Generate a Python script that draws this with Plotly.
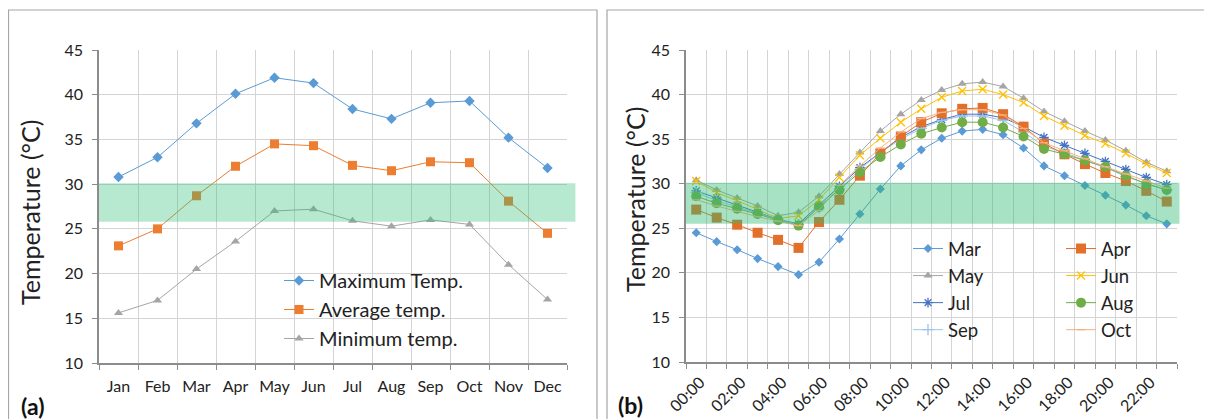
import plotly.graph_objects as go

# ---------------- data ----------------
months = ["Jan", "Feb", "Mar", "Apr", "May", "Jun", "Jul", "Aug", "Sep", "Oct", "Nov", "Dec"]
max_temp = [30.8, 33.0, 36.8, 40.1, 41.9, 41.3, 38.4, 37.3, 39.1, 39.3, 35.2, 31.8]
avg_temp = [23.1, 25.0, 28.7, 32.0, 34.5, 34.3, 32.1, 31.5, 32.5, 32.4, 28.1, 24.5]
min_temp = [15.6, 17.0, 20.5, 23.6, 27.0, 27.2, 25.9, 25.3, 26.0, 25.5, 21.0, 17.1]

hours = ["%02d:00" % h for h in range(24)]
hour_labels = [h if i % 2 == 0 else "" for i, h in enumerate(hours)]

mar = [24.5, 23.5, 22.6, 21.6, 20.7, 19.8, 21.2, 23.8, 26.6, 29.4, 32.0, 33.8,
       35.1, 35.9, 36.1, 35.5, 34.0, 32.0, 30.9, 29.8, 28.7, 27.6, 26.4, 25.5]
apr = [27.1, 26.2, 25.4, 24.5, 23.7, 22.8, 25.7, 28.2, 30.9, 33.4, 35.3, 36.9,
       37.9, 38.4, 38.5, 37.8, 36.4, 34.5, 33.3, 32.2, 31.2, 30.3, 29.2, 28.0]
may = [30.4, 29.3, 28.4, 27.5, 26.4, 26.8, 28.6, 31.1, 33.5, 35.9, 37.8, 39.4,
       40.5, 41.2, 41.4, 40.9, 39.6, 38.1, 37.0, 35.9, 34.9, 33.7, 32.4, 31.4]
jun = [30.3, 29.0, 28.1, 27.1, 26.1, 26.4, 28.2, 30.7, 33.2, 35.1, 36.9, 38.4,
       39.7, 40.4, 40.6, 40.0, 39.1, 37.6, 36.5, 35.4, 34.5, 33.4, 32.2, 31.2]
jul = [29.2, 28.4, 27.6, 26.8, 26.0, 25.5, 27.6, 29.7, 31.8, 33.5, 35.2, 36.4,
       37.2, 37.8, 37.8, 37.4, 36.4, 35.2, 34.3, 33.4, 32.5, 31.6, 30.7, 29.9]
aug = [28.6, 27.8, 27.2, 26.6, 25.9, 25.3, 27.4, 29.3, 31.3, 33.0, 34.4, 35.6,
       36.3, 36.9, 36.9, 36.3, 35.3, 33.9, 33.3, 32.6, 31.9, 30.9, 30.0, 29.3]
sep = [29.0, 28.1, 27.4, 26.7, 26.0, 25.4, 27.3, 29.4, 31.6, 33.5, 35.0, 36.2,
       37.1, 37.6, 37.6, 37.1, 35.8, 34.2, 33.5, 32.6, 31.8, 30.8, 30.0, 29.3]
octo = [28.2, 27.5, 26.9, 26.3, 25.8, 25.3, 27.0, 29.8, 32.0, 34.0, 35.8, 37.3,
        38.0, 38.3, 38.3, 37.7, 36.2, 34.6, 33.7, 32.8, 31.9, 31.1, 30.3, 29.5]

comfort_a = (25.8, 30.1)
comfort_b = (25.5, 30.1)

# ---------------- layout helpers ----------------
# the page body has an 8px margin, so the figure starts at (8, 8) in the window
W, H, OFF = 1204, 411, 8


def px(x):
    return (x - OFF) / W


def py(y):
    return 1 - (y - OFF) / H


FONT = "Lato"
GRID = "#D4D4D4"
AXIS = "#8C8C8C"

fig = go.Figure()

left_series = [
    ("Maximum Temp.", max_temp, "#5B9BD5", "diamond", 8),
    ("Average temp.", avg_temp, "#ED7D31", "square", 9),
    ("Minimum temp.", min_temp, "#A5A5A5", "triangle-up", 8),
]
for i, (name, vals, col, sym, sz) in enumerate(left_series):
    fig.add_trace(go.Scatter(
        x=months, y=vals, name=name, mode="lines+markers",
        line=dict(color=col, width=1),
        marker=dict(symbol=sym, size=sz, color=col),
        xaxis="x", yaxis="y", legend="legend", legendgroup="a%d" % i,
    ))

right_series = [
    ("Mar", mar, "#5B9BD5", "diamond", 7, "legend2"),
    ("May", may, "#A5A5A5", "triangle-up", 8, "legend2"),
    ("Jul", jul, "#4472C4", "asterisk-open", 8, "legend2"),
    ("Sep", sep, "#9DC3E6", "cross-thin-open", 8, "legend2"),
    ("Apr", apr, "#E2702A", "square", 10, "legend3"),
    ("Jun", jun, "#FFC000", "x-thin-open", 8, "legend3"),
    ("Aug", aug, "#70AD47", "circle", 10, "legend3"),
    ("Oct", octo, "#F4B183", "line-ew-open", 6, "legend3"),
]
for i, (name, vals, col, sym, sz, lg) in enumerate(right_series):
    open_sym = sym.endswith("open")
    fig.add_trace(go.Scatter(
        x=hours, y=vals, name=name, mode="lines+markers",
        line=dict(color=col, width=1),
        marker=dict(symbol=sym, size=sz, color=col,
                    line=dict(color=col, width=1.3 if open_sym else 0)),
        xaxis="x2", yaxis="y2", legend=lg, legendgroup="b%d" % i,
    ))

tickfont = dict(family=FONT, size=16, color="#222")

common_y = dict(
    range=[10, 45], dtick=5, showgrid=True, gridcolor=GRID, gridwidth=1,
    showline=True, linecolor=AXIS, linewidth=1.5, ticks="outside", ticklen=5,
    tickcolor=AXIS, tickfont=tickfont, zeroline=False, ticklabelstandoff=6,
    mirror=False, automargin=False,
)
common_x = dict(
    type="category", tickson="boundaries", showgrid=True, gridcolor=GRID,
    gridwidth=1, showline=True, linecolor=AXIS, linewidth=1.5, ticks="outside",
    ticklen=5, tickcolor=AXIS, tickfont=tickfont, zeroline=False, automargin=False,
)

legfont = dict(family=FONT, size=20, color="#222")

fig.update_layout(
    width=W, height=H, margin=dict(l=0, r=0, t=0, b=0, autoexpand=False),
    paper_bgcolor="white", plot_bgcolor="white",
    font=dict(family=FONT, color="#222"),
    xaxis=dict(common_x, domain=[px(99), px(567)], anchor="y",
               range=[-0.5, 11.5], tickangle=0, ticklabelstandoff=8),
    yaxis=dict(common_y, domain=[py(363), py(50)], anchor="x"),
    xaxis2=dict(common_x, domain=[px(686), px(1177)], anchor="y2",
                range=[-0.5, 23.5], tickmode="array", tickvals=hours,
                ticktext=hour_labels, tickangle=-45,
                ticklabelstandoff=3, ticklabelshift=4),
    yaxis2=dict(common_y, domain=[py(362), py(50)], anchor="x2"),
    legend=dict(x=px(279), y=py(261), xanchor="left", yanchor="top",
                bgcolor="rgba(0,0,0,0)", font=legfont, tracegroupgap=0),
    legend2=dict(x=px(908), y=py(230), xanchor="left", yanchor="top",
                 bgcolor="rgba(0,0,0,0)", font=dict(legfont, size=18.5),
                 tracegroupgap=0),
    legend3=dict(x=px(1061), y=py(230), xanchor="left", yanchor="top",
                 bgcolor="rgba(0,0,0,0)", font=dict(legfont, size=18.5),
                 tracegroupgap=0),
    showlegend=True,
)

# axis titles
fig.add_annotation(text="Temperature (°C)", xref="paper", yref="paper",
                   x=px(30), y=py(213), textangle=-90, showarrow=False,
                   xanchor="center", yanchor="middle",
                   font=dict(family=FONT, size=25, color="#222"))
fig.add_annotation(text="Temperature (°C)", xref="paper", yref="paper",
                   x=px(635), y=py(200), textangle=-90, showarrow=False,
                   xanchor="center", yanchor="middle",
                   font=dict(family=FONT, size=25, color="#222"))

# comfort bands (drawn above the lines, as in the original)
fig.add_shape(type="rect", xref="x domain", yref="y", x0=0, x1=1.018,
              y0=comfort_a[0], y1=comfort_a[1], layer="above",
              fillcolor="rgba(50,190,120,0.35)", line=dict(width=0))
fig.add_shape(type="rect", xref="x2 domain", yref="y2", x0=0, x1=1.005,
              y0=comfort_b[0], y1=comfort_b[1], layer="above",
              fillcolor="rgba(45,185,115,0.42)", line=dict(width=0))

# panel frames
fig.add_shape(type="rect", xref="paper", yref="paper", x0=px(8.5), x1=px(597),
              y0=-0.05, y1=py(10), line=dict(color="#A6A6A6", width=1.2),
              layer="below")
fig.add_shape(type="rect", xref="paper", yref="paper", x0=px(607), x1=1.05,
              y0=-0.05, y1=py(10), line=dict(color="#A6A6A6", width=1.2),
              layer="below")

# panel letters
fig.add_annotation(text="<b>(a)</b>", xref="paper", yref="paper", x=px(19),
                   y=py(406), xanchor="left", yanchor="middle", showarrow=False,
                   font=dict(family=FONT, size=23, color="#111"))
fig.add_annotation(text="<b>(b)</b>", xref="paper", yref="paper", x=px(616),
                   y=py(405), xanchor="left", yanchor="middle", showarrow=False,
                   font=dict(family=FONT, size=23, color="#111"))

fig.write_html("out.html")
